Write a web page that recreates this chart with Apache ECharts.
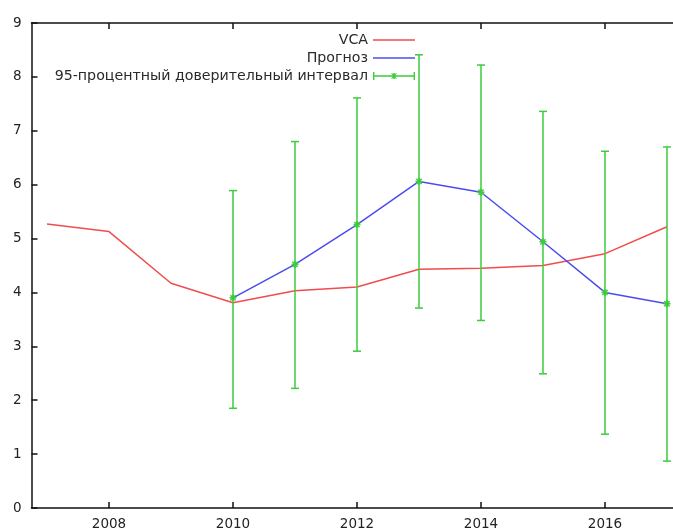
<!DOCTYPE html>
<html>
<head>
<meta charset="utf-8">
<script src="https://cdn.jsdelivr.net/npm/echarts@6/dist/echarts.min.js"></script>
<style>
  html, body { margin: 0; padding: 0; background: #fff; }
  #chart { width: 673px; height: 532px; }
</style>
</head>
<body>
<div id="chart"></div>
<script>
// Observed series
const years = [2007, 2008, 2009, 2010, 2011, 2012, 2013, 2014, 2015, 2016, 2017];
const vca = [5.27, 5.13, 4.17, 3.81, 4.03, 4.10, 4.43, 4.45, 4.50, 4.72, 5.22];

// Forecast with its 95% confidence bounds
const forecastYears = [2010, 2011, 2012, 2013, 2014, 2015, 2016, 2017];
const forecast = [3.90, 4.52, 5.26, 6.06, 5.86, 4.94, 4.00, 3.79];
const ciLow = [1.85, 2.22, 2.91, 3.71, 3.48, 2.49, 1.37, 0.87];
const ciHigh = [5.89, 6.80, 7.61, 8.41, 8.22, 7.36, 6.62, 6.70];

// Axis ticks
const xTicks = [2008, 2010, 2012, 2014, 2016];

const seriesNames = ['VCA', 'Прогноз', '95-процентный доверительный интервал'];

const RED = '#f24c4c';
const BLUE = '#4c4cee';
const GREEN = '#3ccc3c';
const FONT = 'DejaVu Sans';

// Plain line key
const lineIcon = 'path://M0,3.2 L42,3.2 L42,4.8 L0,4.8 Z';
// Error-bar key: ├──*──┤
const errorBarIcon = 'path://' +
  'M0,0 L1.4,0 L1.4,8 L0,8 Z ' +
  'M40.6,0 L42,0 L42,8 L40.6,8 Z ' +
  'M0,3.2 L42,3.2 L42,4.8 L0,4.8 Z ' +
  'M20.3,1 L21.7,1 L21.7,7 L20.3,7 Z ' +
  'M18.2,1.4 L19,0.9 L23.8,6.6 L23,7.1 Z ' +
  'M19,7.1 L18.2,6.6 L23,0.9 L23.8,1.4 Z';

const chart = echarts.init(document.getElementById('chart'), null, { renderer: 'canvas' });

const axisLineStyle = { color: '#111', width: 1.5 };
const X_MIN = 2006.75;
const X_MAX = 2017.097;

chart.setOption({
  animation: false,
  backgroundColor: '#ffffff',
  textStyle: { fontFamily: FONT },
  grid: { left: 31.5, right: 0, top: 23, bottom: 24, containLabel: false },
  legend: {
    orient: 'vertical',
    align: 'right',
    right: 258,
    top: 32,
    padding: 0,
    itemWidth: 42,
    itemHeight: 8,
    itemGap: 2,
    symbolKeepAspect: true,
    selectedMode: false,
    textStyle: { fontFamily: FONT, fontSize: 14.2, color: '#2a2a2a', lineHeight: 16 },
    data: [
      { name: seriesNames[0], icon: lineIcon },
      { name: seriesNames[1], icon: lineIcon },
      { name: seriesNames[2], icon: errorBarIcon }
    ]
  },
  xAxis: [
    {
      type: 'value',
      min: X_MIN,
      max: X_MAX,
      position: 'bottom',
      splitLine: { show: false },
      axisLine: { show: true, onZero: false, lineStyle: axisLineStyle },
      axisTick: { show: true, inside: true, length: 6, customValues: xTicks, lineStyle: axisLineStyle },
      axisLabel: {
        customValues: xTicks,
        margin: 9,
        fontFamily: FONT,
        fontSize: 13.5,
        color: '#222',
        formatter: v => String(v)
      }
    },
    {
      type: 'value',
      min: X_MIN,
      max: X_MAX,
      position: 'top',
      splitLine: { show: false },
      axisLine: { show: true, onZero: false, lineStyle: axisLineStyle },
      axisTick: { show: true, inside: true, length: 6, customValues: xTicks, lineStyle: axisLineStyle },
      axisLabel: { show: false }
    }
  ],
  yAxis: {
    type: 'value',
    min: 0,
    max: 9,
    interval: 1,
    splitLine: { show: false },
    axisLine: { show: true, lineStyle: axisLineStyle },
    axisTick: { show: true, inside: true, length: 6, lineStyle: axisLineStyle },
    axisLabel: { margin: 10, fontFamily: FONT, fontSize: 13.5, color: '#222' }
  },
  series: [
    {
      name: seriesNames[0],
      type: 'line',
      xAxisIndex: 0,
      data: years.map((y, i) => [y, vca[i]]),
      symbol: 'none',
      color: RED,
      lineStyle: { color: RED, width: 1.5 },
      z: 2
    },
    {
      name: seriesNames[1],
      type: 'line',
      xAxisIndex: 0,
      data: forecastYears.map((y, i) => [y, forecast[i]]),
      symbol: 'none',
      color: BLUE,
      lineStyle: { color: BLUE, width: 1.5 },
      z: 3
    },
    {
      name: seriesNames[2],
      type: 'custom',
      xAxisIndex: 0,
      color: GREEN,
      itemStyle: { color: GREEN },
      clip: false,
      z: 4,
      data: forecastYears.map((y, i) => [y, ciLow[i], ciHigh[i], forecast[i]]),
      encode: { x: 0, y: [1, 2, 3] },
      renderItem: function (params, api) {
        const x = api.value(0);
        const lo = api.coord([x, api.value(1)]);
        const hi = api.coord([x, api.value(2)]);
        const mid = api.coord([x, api.value(3)]);
        const cap = 4;
        const s = 3.5;
        const st = { stroke: GREEN, lineWidth: 1.5, fill: null };
        const seg = (x1, y1, x2, y2) => ({ type: 'line', shape: { x1, y1, x2, y2 }, style: st });
        return {
          type: 'group',
          children: [
            seg(lo[0], lo[1], hi[0], hi[1]),
            seg(lo[0] - cap, lo[1], lo[0] + cap, lo[1]),
            seg(hi[0] - cap, hi[1], hi[0] + cap, hi[1]),
            // star marker at the forecast value
            seg(mid[0] - s, mid[1], mid[0] + s, mid[1]),
            seg(mid[0], mid[1] - s, mid[0], mid[1] + s),
            seg(mid[0] - s * 0.75, mid[1] - s * 0.75, mid[0] + s * 0.75, mid[1] + s * 0.75),
            seg(mid[0] - s * 0.75, mid[1] + s * 0.75, mid[0] + s * 0.75, mid[1] - s * 0.75)
          ]
        };
      }
    }
  ]
});
</script>
</body>
</html>
